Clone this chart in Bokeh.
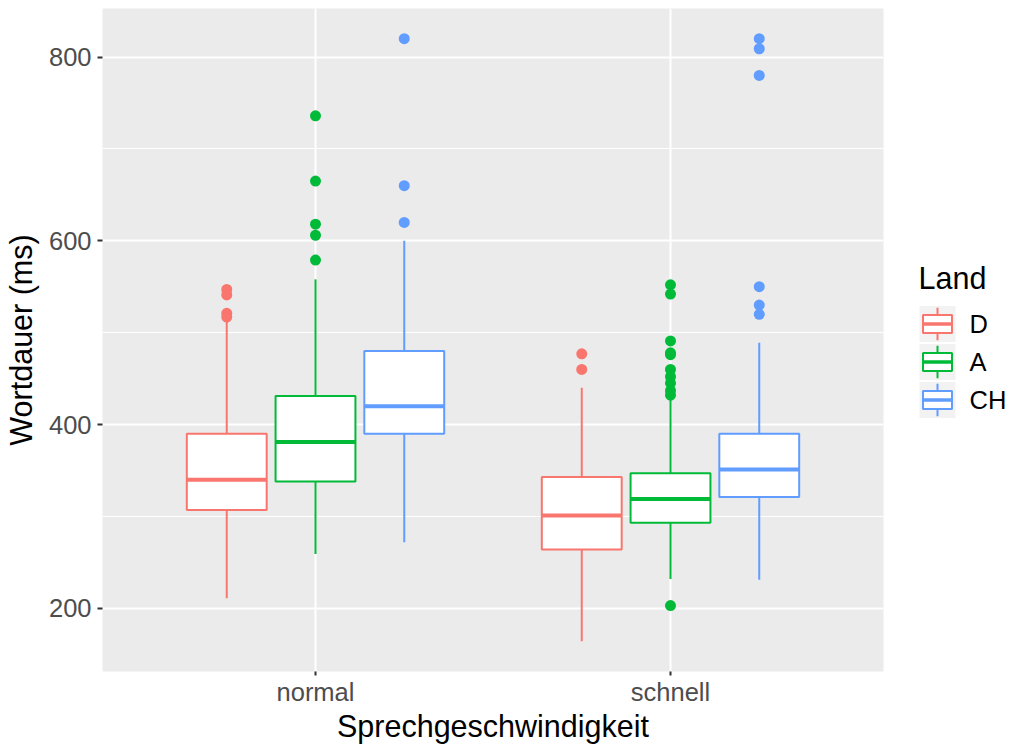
from bokeh.plotting import figure
from bokeh.layouts import row
from bokeh.models import Range1d, FixedTicker
from bokeh.core.properties import value
from bokeh.embed import file_html
from bokeh.resources import INLINE

# ---------------- data ----------------
categories = ["normal", "schnell"]
lands = ["D", "A", "CH"]
colors = ["#F8766D", "#00BA38", "#619CFF"]

# one entry per (category, land) group, order: normal D, A, CH, schnell D, A, CH
grp_cat = ["normal", "normal", "normal", "schnell", "schnell", "schnell"]
grp_land = ["D", "A", "CH", "D", "A", "CH"]
lower_whisker = [211, 259, 272, 164, 232, 231]
q1 = [307, 338, 390, 264, 293, 321]
median = [340, 381, 420, 301, 319, 351]
q3 = [390, 431, 480, 343, 347, 390]
upper_whisker = [513, 558, 600, 440, 428, 489]

out_cat = (["normal"] * 4 + ["normal"] * 5 + ["normal"] * 3 +
           ["schnell"] * 2 + ["schnell"] * 11 + ["schnell"] * 6)
out_land = (["D"] * 4 + ["A"] * 5 + ["CH"] * 3 +
            ["D"] * 2 + ["A"] * 11 + ["CH"] * 6)
out_value = [547, 541, 521, 517,
             736, 665, 618, 606, 579,
             820, 660, 620,
             477, 460,
             552, 542, 491, 478, 476, 460, 452, 445, 437, 432, 203,
             820, 809, 780, 550, 530, 520]

y_ticks = [200, 400, 600, 800]
y_minor = [300, 500, 700]

# ---------------- geometry helpers ----------------
dodge = 0.25
box_w = 0.225
cat_pos = {c: i + 1 for i, c in enumerate(categories)}
land_off = {l: (i - 1) * dodge for i, l in enumerate(lands)}
land_col = dict(zip(lands, colors))

gx = [cat_pos[c] + land_off[l] for c, l in zip(grp_cat, grp_land)]
gcol = [land_col[l] for l in grp_land]
ox = [cat_pos[c] + land_off[l] for c, l in zip(out_cat, out_land)]
ocol = [land_col[l] for l in out_land]

all_vals = lower_whisker + upper_whisker + out_value
lo, hi = min(all_vals), max(all_vals)
pad = (hi - lo) * 0.05

FONT = "Liberation Sans"

p = figure(frame_width=781, frame_height=663,
           x_range=Range1d(0.4, len(categories) + 0.6),
           y_range=Range1d(lo - pad, hi + pad),
           output_backend="svg", toolbar_location=None,
           min_border_left=98, min_border_right=7,
           min_border_top=8, min_border_bottom=58)
p.background_fill_color = "#EBEBEB"
p.border_fill_color = "white"
p.outline_line_color = None

# axes
p.xaxis.ticker = FixedTicker(ticks=[cat_pos[c] for c in categories])
p.xaxis.major_label_overrides = {cat_pos[c]: c for c in categories}
p.yaxis.ticker = FixedTicker(ticks=y_ticks, minor_ticks=y_minor)
for ax in (p.xaxis[0], p.yaxis[0]):
    ax.axis_line_color = None
    ax.minor_tick_line_color = None
    ax.major_tick_in = 0
    ax.major_tick_line_color = "#333333"
    ax.major_tick_line_width = 2
    ax.major_label_text_font = FONT
    ax.major_label_text_font_size = "25.5px"
    ax.major_label_text_color = "#4D4D4D"
    ax.axis_label_text_font = FONT
    ax.axis_label_text_font_size = "30.5px"
    ax.axis_label_text_font_style = "normal"
    ax.axis_label_text_color = "black"
p.xaxis.major_tick_out = 4
p.yaxis.major_tick_out = 5
p.xaxis.major_label_standoff = 2
p.yaxis.major_label_standoff = 6
p.xaxis.axis_label = "Sprechgeschwindigkeit"
p.yaxis.axis_label = "Wortdauer (ms)"
p.xaxis.axis_label_standoff = 0
p.yaxis.axis_label_standoff = 8

# grids
p.xgrid.ticker = FixedTicker(ticks=[cat_pos[c] for c in categories])
p.xgrid.grid_line_color = "white"
p.xgrid.grid_line_width = 2
p.ygrid.ticker = FixedTicker(ticks=y_ticks, minor_ticks=y_minor)
p.ygrid.grid_line_color = "white"
p.ygrid.grid_line_width = 2
p.ygrid.minor_grid_line_color = "white"
p.ygrid.minor_grid_line_width = 1

# boxplots
p.scatter(ox, out_value, size=11, color=ocol, line_color=None)
p.segment(gx, q3, gx, upper_whisker, line_color=gcol, line_width=2)
p.segment(gx, q1, gx, lower_whisker, line_color=gcol, line_width=2)
p.vbar(x=gx, bottom=q1, top=q3, width=box_w, fill_color="white",
       line_color=gcol, line_width=2)
p.segment([x - box_w / 2 for x in gx], median, [x + box_w / 2 for x in gx], median,
          line_color=gcol, line_width=4)

# ---------------- legend panel ----------------
L = figure(frame_width=115, frame_height=739,
           x_range=Range1d(0, 115), y_range=Range1d(739, 0),
           output_backend="svg", toolbar_location=None,
           x_axis_type=None, y_axis_type=None, min_border=0)
L.outline_line_color = None
L.grid.visible = False
L.background_fill_color = "white"
L.border_fill_color = "white"

key_x0, key_size, key_step, key_y0 = 29, 36, 38, 315.5
kcx = key_x0 + key_size / 2
kys = [key_y0 + i * key_step for i in range(len(lands))]
L.text(x=[28], y=[269], text=["Land"], text_font=value(FONT),
       text_font_size="30.5px", text_baseline="middle", text_align="left",
       text_color="black")
L.rect(x=[kcx] * len(lands), y=kys, width=key_size, height=key_size,
       fill_color="#F2F2F2", line_color=None)
L.segment([kcx] * len(lands), [y - key_size * 0.45 for y in kys],
          [kcx] * len(lands), [y + key_size * 0.45 for y in kys],
          line_color=colors, line_width=2)
L.rect(x=[kcx] * len(lands), y=kys, width=29, height=key_size / 2,
       fill_color="white", line_color=colors, line_width=2)
L.segment([kcx - 14.5] * len(lands), kys, [kcx + 14.5] * len(lands), kys,
          line_color=colors, line_width=3.5)
L.text(x=[79] * len(lands), y=kys, text=lands, text_font=value(FONT),
       text_font_size="25.5px", text_baseline="middle", text_align="left",
       text_color="black")

layout = row(p, L)
open("out.html", "w").write(file_html(layout, INLINE))
